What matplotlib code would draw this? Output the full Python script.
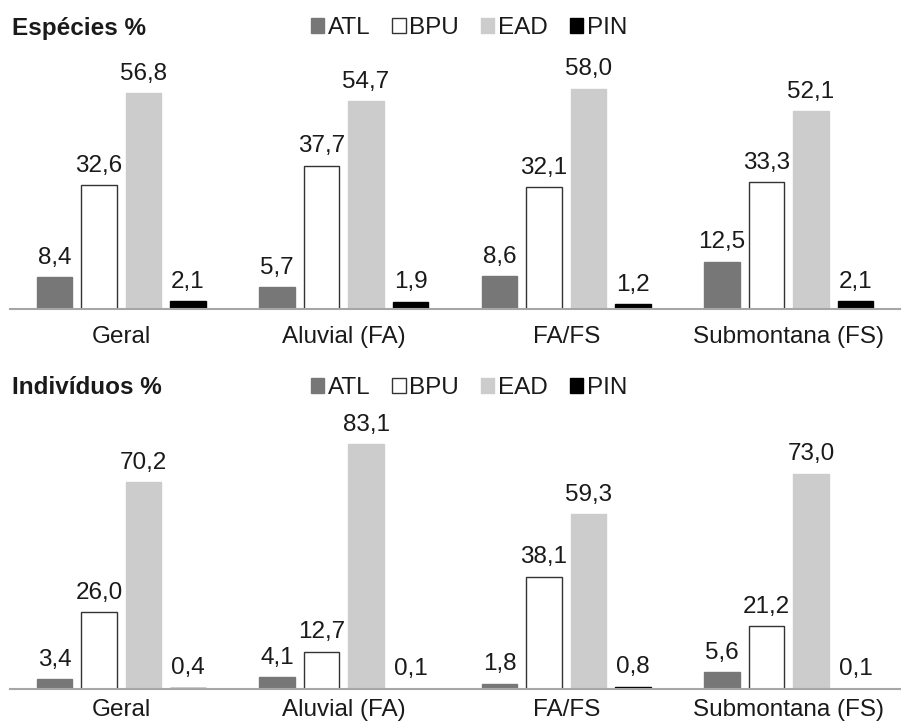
import matplotlib
matplotlib.use("Agg")
import matplotlib.pyplot as plt
from matplotlib.patches import Patch
import numpy as np

plt.rcParams['font.family'] = ['Liberation Sans', 'DejaVu Sans']

categories = ["Geral", "Aluvial (FA)", "FA/FS", "Submontana (FS)"]
series = ["ATL", "BPU", "EAD", "PIN"]

esp_atl = [8.4, 5.7, 8.6, 12.5]
esp_bpu = [32.6, 37.7, 32.1, 33.3]
esp_ead = [56.8, 54.7, 58.0, 52.1]
esp_pin = [2.1, 1.9, 1.2, 2.1]

ind_atl = [3.4, 4.1, 1.8, 5.6]
ind_bpu = [26.0, 12.7, 38.1, 21.2]
ind_ead = [70.2, 83.1, 59.3, 73.0]
ind_pin = [0.4, 0.1, 0.8, 0.1]

colors = ["#777777", "white", "#cccccc", "black"]
edges = ["#777777", "#333333", "#cccccc", "black"]
TXT = "#1a1a1a"
FS = 17.5

W, H = 902, 726
fig = plt.figure(figsize=(W / 100, H / 100), dpi=100)

def px_axes(left, right, base, top):
    return fig.add_axes([left / W, (H - base) / H, (right - left) / W, (base - top) / H])

def panel(ax, data, ymax, title, title_y, leg_y, pad):
    x = np.arange(len(categories))
    offs = [-0.3, -0.1, 0.1, 0.3]
    for vals, off, c, e, name in zip(data, offs, colors, edges, series):
        bars = ax.bar(x + off, vals, width=0.16, color=c, edgecolor=e, linewidth=1.0, label=name)
        for b, v in zip(bars, vals):
            ax.annotate(f"{v:.1f}".replace(".", ","), (b.get_x() + b.get_width() / 2, v),
                        xytext=(0, 6), textcoords="offset points",
                        ha="center", va="bottom", fontsize=FS, color=TXT)
    ax.set_xlim(-0.5, 3.5)
    ax.set_ylim(0, ymax)
    ax.set_xticks(x)
    ax.set_xticklabels(categories, fontsize=FS, color=TXT)
    ax.tick_params(axis="x", length=0, pad=pad)
    ax.set_yticks([])
    for s in ["top", "right", "left"]:
        ax.spines[s].set_visible(False)
    ax.spines["bottom"].set_color("#a6a6a6")
    ax.spines["bottom"].set_linewidth(1.5)
    ax.patch.set_alpha(0)
    fig.text(12 / W, (H - title_y) / H, title, fontsize=FS, fontweight="bold",
             va="center", ha="left", color=TXT)
    handles = [Patch(facecolor=c, edgecolor=e, linewidth=1.0) for c, e in zip(colors, edges)]
    fig.legend(handles, series, loc="center", bbox_to_anchor=(469 / W, (H - leg_y) / H),
               ncol=4, frameon=False, fontsize=FS, handlelength=0.55, handleheight=0.55,
               handletextpad=0.15, columnspacing=0.9, labelcolor=TXT,
               borderpad=0, borderaxespad=0)

ax1 = px_axes(10, 900, 309, 60)
panel(ax1, [esp_atl, esp_bpu, esp_ead, esp_pin], 249 / 3.8, "Espécies %", 29, 28, 12.5)

ax2 = px_axes(10, 900, 689, 400)
panel(ax2, [ind_atl, ind_bpu, ind_ead, ind_pin], 289 / 2.95, "Indivíduos %", 388, 388, 7.5)

fig.savefig("out.png", dpi=100)
